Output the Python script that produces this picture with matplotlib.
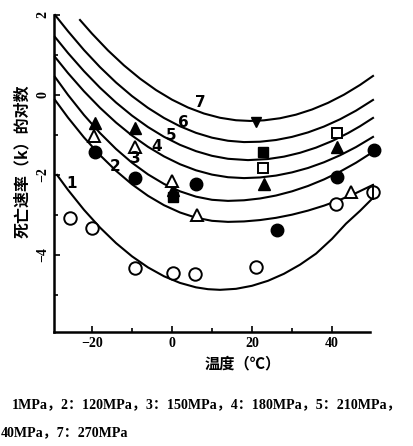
import matplotlib.pyplot as plt
import numpy as np

plt.rcParams['font.family'] = ['Liberation Serif', 'Noto Sans CJK SC']

# кривые 1..7 (давление растёт)
c1_x = [-28.75, -26, -22, -18, -14, -10, -6, -2, 2, 6, 9, 12, 16, 20, 24, 28, 32, 36, 40, 43.5, 47, 50.25]
c1_y = [-2.0, -2.375, -2.874, -3.317, -3.705, -4.037, -4.314, -4.536, -4.702, -4.813, -4.859, -4.875,
        -4.85, -4.774, -4.649, -4.473, -4.246, -3.97, -3.6, -3.22, -2.9, -2.575]
c2_x = [-29.25, -26, -22, -18, -14, -10, -6, -2, 2, 6, 10, 14, 18, 22, 26, 30, 34, 38, 42, 46, 50.25]
c2_y = [-0.125, -0.567, -1.063, -1.506, -1.897, -2.236, -2.523, -2.758, -2.94, -3.071, -3.149, -3.175,
        -3.164, -3.13, -3.074, -2.995, -2.893, -2.769, -2.623, -2.454, -2.25]
c3_x = [-29.25, -26, -22, -18, -14, -10, -6, -2, 2, 6, 10, 14, 18, 22, 26, 30, 34, 38, 42, 46, 50.25]
c3_y = [0.45, 0.001, -0.502, -0.953, -1.351, -1.696, -1.987, -2.226, -2.411, -2.544, -2.623, -2.65,
        -2.635, -2.59, -2.516, -2.411, -2.277, -2.113, -1.919, -1.696, -1.425]
c4_x = [-29.25, -26, -22, -18, -14, -10, -6, -2, 2, 6, 10, 14, 18, 22, 26, 30, 34, 38, 42, 46, 50.25]
c4_y = [0.95, 0.547, 0.091, -0.321, -0.69, -1.016, -1.298, -1.537, -1.733, -1.885, -1.993, -2.058,
        -2.08, -2.064, -2.017, -1.937, -1.827, -1.684, -1.51, -1.304, -1.05]
c5_x = [-29.25, -26, -22, -18, -14, -10, -6, -2, 2, 6, 10, 14, 19, 24, 28, 32, 36, 40, 44, 47, 50.25]
c5_y = [1.45, 1.049, 0.594, 0.181, -0.189, -0.517, -0.803, -1.047, -1.248, -1.406, -1.523, -1.597,
        -1.63, -1.603, -1.543, -1.447, -1.318, -1.154, -0.955, -0.783, -0.575]
c6_x = [-29.25, -26, -22, -18, -14, -10, -6, -2, 2, 6, 10, 14, 18, 22, 26, 30, 34, 38, 42, 46, 50.25]
c6_y = [2.0, 1.594, 1.123, 0.696, 0.312, -0.028, -0.324, -0.576, -0.784, -0.948, -1.069, -1.146,
        -1.179, -1.17, -1.127, -1.049, -0.937, -0.79, -0.609, -0.393, -0.125]
c7_x = [-23, -20, -16, -12, -8, -4, 0, 4, 8, 12, 16, 19.5, 23, 27, 31, 35, 39, 43, 47, 50.25]
c7_y = [1.875, 1.534, 1.114, 0.739, 0.409, 0.123, -0.118, -0.314, -0.465, -0.571, -0.633, -0.65,
        -0.635, -0.583, -0.493, -0.364, -0.198, 0.007, 0.25, 0.475]

curves = [(c1_x, c1_y), (c2_x, c2_y), (c3_x, c3_y), (c4_x, c4_y),
          (c5_x, c5_y), (c6_x, c6_y), (c7_x, c7_y)]
curve_names = ['1', '2', '3', '4', '5', '6', '7']
name_x = [-25, -14.25, -9.25, -3.75, -0.25, 2.75, 7]
name_y = [-2.22, -1.78, -1.58, -1.3, -1.02, -0.68, -0.2]

# экспериментальные точки
o_open_x = [-25.5, -20, -9.25, 0.25, 5.75, 21, 41]
o_open_y = [-3.08, -3.33, -4.33, -4.45, -4.48, -4.3, -2.73]
o_half_x = [50.25]
o_half_y = [-2.43]
o_fill_x = [-19.25, -9.25, 6, 26.25, 41.25, 50.5]
o_fill_y = [-1.43, -2.08, -2.23, -3.38, -2.05, -1.38]
tri_fill_x = [-19.25, -9.25, 0.25, 23, 41.25]
tri_fill_y = [-0.7, -0.83, -2.38, -2.23, -1.3]
tri_open_x = [-19.5, -9.25, 0, 6.25, 44.75]
tri_open_y = [-1.03, -1.3, -2.15, -3.0, -2.43]
sq_open_x = [22.75, 41.25]
sq_open_y = [-1.83, -0.95]
sq_fill_x = [22.75, 0.25]
sq_fill_y = [-1.43, -2.55]
tdown_fill_x = [21]
tdown_fill_y = [-0.68]

fig = plt.figure(figsize=(4.14, 4.46), dpi=100)
ax = fig.add_axes([54 / 414, 1 - 332 / 446, 316 / 414, 317 / 446])

for (x, y) in curves:
    ax.plot(x, y, color='black', lw=1.5, clip_on=False, solid_joinstyle='round')
for n, tx, ty in zip(curve_names, name_x, name_y):
    ax.text(tx, ty, n, fontsize=11, fontweight='bold', ha='center', va='center',
            family='DejaVu Sans')

ms = 9
ax.plot(o_open_x, o_open_y, 'o', ms=ms, mfc='white', mec='black', mew=1.4, clip_on=False)
ax.plot(o_half_x, o_half_y, 'o', ms=ms, mfc='white', mec='black', mew=1.4, clip_on=False)
ax.plot(o_half_x, o_half_y, '|', ms=ms + 2, mec='black', mew=1.4, clip_on=False)
ax.plot(o_fill_x, o_fill_y, 'o', ms=ms, color='black', clip_on=False)
ax.plot(tri_fill_x, tri_fill_y, '^', ms=ms, color='black', clip_on=False)
ax.plot(tri_open_x, tri_open_y, '^', ms=ms, mfc='white', mec='black', mew=1.4, clip_on=False)
ax.plot(sq_fill_x, sq_fill_y, 's', ms=7.5, color='black', clip_on=False)
ax.plot(sq_open_x, sq_open_y, 's', ms=7.5, mfc='white', mec='black', mew=1.4, clip_on=False)
ax.plot(tdown_fill_x, tdown_fill_y, 'v', ms=7.5, color='black', clip_on=False)

ax.set_xlim(-29.5, 49.5)
ax.set_ylim(-5.93, 2.0)
ax.spines['top'].set_visible(False)
ax.spines['right'].set_visible(False)
for s in ['left', 'bottom']:
    ax.spines[s].set_linewidth(1.8)

ax.set_xticks([-20, 0, 20, 40])
ax.set_xticks([-10, 10, 30], minor=True)
ax.set_yticks([-4, -2, 0, 2])
ax.set_yticks([-5, -3, -1, 1], minor=True)
ax.tick_params(axis='both', which='both', direction='in', width=1.2, labelsize=10)
ax.tick_params(axis='both', which='major', length=4)
ax.tick_params(axis='both', which='minor', length=3)
ax.tick_params(axis='y', labelrotation=90)
for lb in ax.get_yticklabels():
    lb.set_va('center')
    lb.set_fontweight('bold')
for lb in ax.get_xticklabels():
    lb.set_fontweight('bold')

fig.text(243 / 414, 1 - 363 / 446, '温度（℃）', fontsize=11, fontweight='bold',
         family='Noto Sans CJK SC', ha='center', va='center')
fig.text(22 / 414, 1 - 161 / 446, '死亡速率（k）的对数', fontsize=11.5, fontweight='bold',
         family='Noto Sans CJK SC', ha='center', va='center', rotation=90)

fig.text(12 / 414, 1 - 405 / 446, '1MPa，2：120MPa，3：150MPa，4：180MPa，5：210MPa，',
         fontsize=10.1, fontweight='bold', va='center', ha='left')
fig.text(0.002, 1 - 433 / 446, '40MPa，7：270MPa',
         fontsize=10.1, fontweight='bold', va='center', ha='left')

fig.savefig('out.png', dpi=100)
